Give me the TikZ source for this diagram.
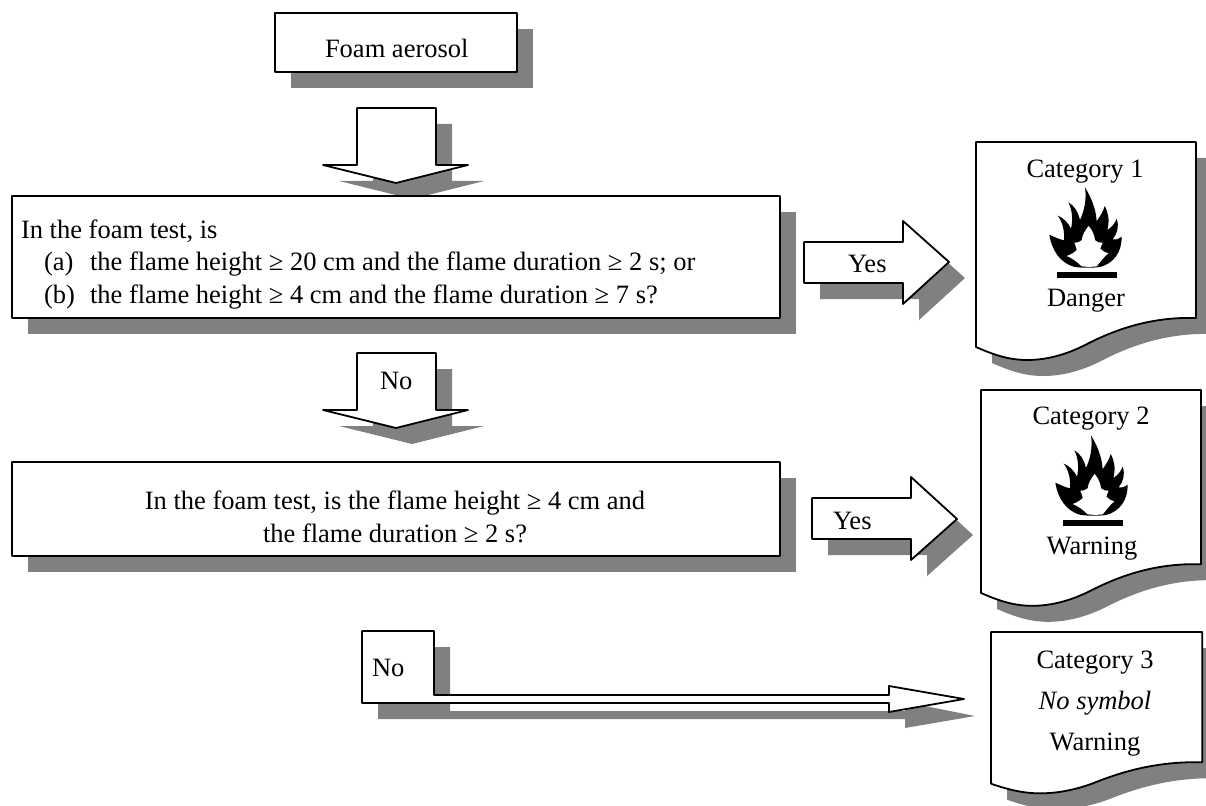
\documentclass[tikz,border=0pt]{standalone}
\usepackage{fontspec}
\setmainfont{Liberation Serif}
\definecolor{shadegray}{HTML}{808080}
\tikzset{
  shade fill/.style={fill=shadegray,draw=none,shift={(16,16)}},
  outline/.style={draw=black,fill=white,line width=1.8pt,line join=round},
  lbl/.style={inner sep=0pt,outer sep=0pt,font=\fontsize{26.5}{30}\selectfont,text=black},
  lblw/.style={lbl,anchor=base west},
  lblc/.style={lbl,anchor=base},
}
\newcommand{\pFoam}{(275,13) rectangle (517,72)}
\newcommand{\pBoxA}{(12,196) rectangle (780,318)}
\newcommand{\pBoxB}{(12,462) rectangle (780,556)}
\newcommand{\pDown}[1]{(357,#1) -- (436,#1) -- (436,#1+57) -- (468,#1+57) -- (396,#1+75) -- (323,#1+57) -- (357,#1+57) -- cycle}
\newcommand{\pYesA}{(804,242) -- (903,242) -- (903,221) -- (949,262) -- (903,304) -- (903,283) -- (804,283) -- cycle}
\newcommand{\pYesB}{(812,498) -- (911,498) -- (911,477) -- (957,519) -- (911,560) -- (911,539) -- (812,539) -- cycle}
\newcommand{\pNo}{(362,631) -- (434,631) -- (434,695) -- (889,695) -- (889,686) -- (964,699) -- (889,712) -- (889,703) -- (362,703) -- cycle}
\newcommand{\pNoShade}{(378,647) -- (450,647) -- (450,711) -- (905,711) -- (905,702) -- (975,716) -- (905,728) -- (905,719) -- (378,719) -- cycle}
\newcommand{\pDoc}{(0,0) -- (220,0) -- (220,176) .. controls (185,175) and (150,182) .. (111,202) .. controls (90,213) and (70,218) .. (51,218) .. controls (35,218) and (20,214) .. (0,205) -- cycle}
\newcommand{\pFlame}{(268,314) .. controls (285,322) and (298,328) .. (312,331)
  .. controls (314,300) and (307,275) .. (293,257)
  .. controls (310,263) and (322,276) .. (333,296)
  .. controls (339,270) and (337,240) .. (325,217)
  .. controls (342,226) and (354,245) .. (360,270)
  .. controls (374,240) and (380,205) .. (375,172)
  .. controls (392,200) and (408,235) .. (410,274)
  .. controls (420,258) and (430,245) .. (434,228)
  .. controls (446,250) and (449,272) .. (442,300)
  .. controls (455,292) and (465,280) .. (470,266)
  .. controls (478,290) and (472,310) .. (458,328)
  .. controls (470,330) and (478,326) .. (485,320)
  .. controls (486,365) and (462,400) .. (420,411)
  .. controls (395,414) and (370,414) .. (345,411)
  .. controls (300,400) and (275,360) .. (268,314) -- cycle}
\newcommand{\pFlameIn}{(386,288)
  .. controls (398,302) and (404,318) .. (405,331)
  .. controls (412,337) and (420,339) .. (428,338)
  .. controls (424,346) and (422,352) .. (421,356)
  .. controls (428,364) and (436,368) .. (445,370)
  .. controls (432,380) and (422,395) .. (410,409)
  .. controls (395,411) and (380,411) .. (365,409)
  .. controls (352,396) and (336,384) .. (320,378)
  .. controls (332,374) and (342,368) .. (350,360)
  .. controls (349,352) and (346,345) .. (343,338)
  .. controls (350,339) and (358,337) .. (365,331)
  .. controls (367,316) and (374,302) .. (386,288) -- cycle}
\begin{document}
\begin{tikzpicture}[x=1pt,y=-1pt]
\clip (0,0) rectangle (1206,805);
% shadows
\fill[shade fill] \pFoam;
\fill[shade fill] \pDown{108};
\fill[shade fill] \pBoxA;
\fill[shade fill] \pDown{353};
\fill[shade fill] \pBoxB;
\fill[shade fill] \pYesA;
\fill[shade fill] \pYesB;
\fill[shadegray] \pNoShade;
\fill[shadegray,shift={(992,158)}] \pDoc;
\fill[shadegray,shift={(997,406)},yscale=0.99] \pDoc;
\fill[shadegray,shift={(1007,648)},xscale=0.96,yscale=0.74] \pDoc;
% shapes
\draw[outline] \pFoam;
\draw[outline] \pDown{108};
\draw[outline] \pBoxA;
\draw[outline] \pDown{353};
\draw[outline] \pBoxB;
\draw[outline] \pYesA;
\draw[outline] \pYesB;
\draw[outline] \pNo;
\draw[outline,shift={(976,142)}] \pDoc;
\draw[outline,shift={(981,390)},yscale=0.99] \pDoc;
\draw[outline,shift={(991,632)},xscale=0.96,yscale=0.74] \pDoc;
% flames
\begin{scope}[shift={(960,130)},scale=0.33333]
  \fill[black] \pFlame;
  \fill[white] \pFlameIn;
  \fill[black] (291,426) rectangle (471,443);
\end{scope}
\begin{scope}[shift={(966,378)},scale=0.33333]
  \fill[black] \pFlame;
  \fill[white] \pFlameIn;
  \fill[black] (291,426) rectangle (471,443);
\end{scope}
% text
\node[lblw] (foam) at (325,58) {Foam aerosol};
\node[lblw] (qa0) at (21,238) {In the foam test, is};
\node[lblw] (qa1a) at (44,270) {(a)};
\node[lblw] (qa1) at (90,270) {the flame height ≥ 20 cm and the flame duration ≥ 2 s; or};
\node[lblw] (qa2a) at (44,303) {(b)};
\node[lblw] (qa2) at (90,303) {the flame height ≥ 4 cm and the flame duration ≥ 7 s?};
\node[lblc] (qb1) at (395,509) {In the foam test, is the flame height ≥ 4 cm and};
\node[lblc] (qb2) at (395,542) {the flame duration ≥ 2 s?};
\node[lblw] (yesa) at (848,272) {Yes};
\node[lblw] (yesb) at (833,529) {Yes};
\node[lblw] (noa) at (380,389) {No};
\node[lblw] (nob) at (372,676) {No};
\node[lblc] (c1) at (1085,178) {Category 1};
\node[lblc] (d1) at (1086,306) {Danger};
\node[lblc] (c2) at (1091,424) {Category 2};
\node[lblc] (d2) at (1092,554) {Warning};
\node[lblc] (c3) at (1095,668) {Category 3};
\node[lblc] (ns) at (1095,709) {\itshape No symbol};
\node[lblc] (d3) at (1095,750) {Warning};
\end{tikzpicture}
\end{document}
